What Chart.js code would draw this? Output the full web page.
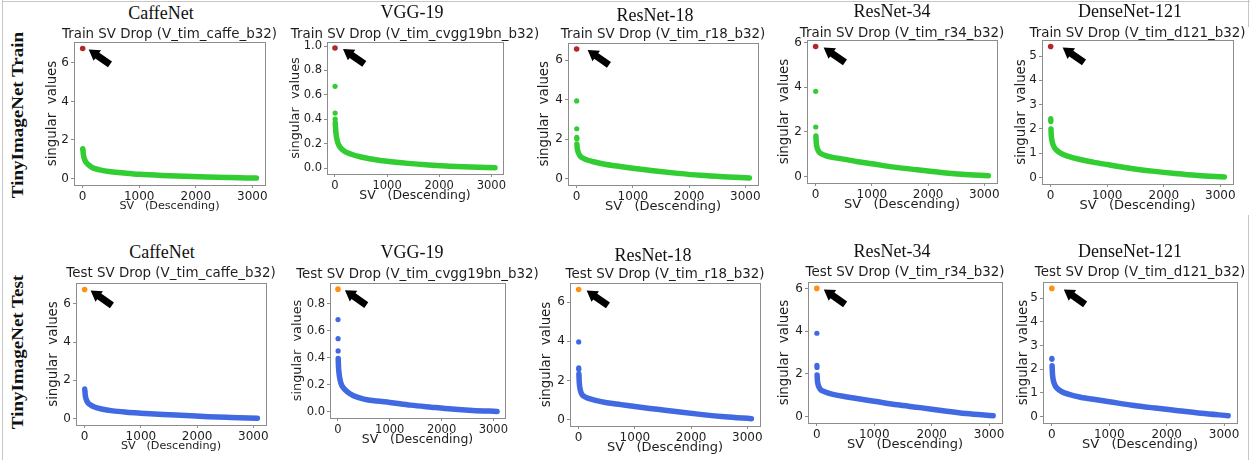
<!DOCTYPE html>
<html>
<head>
<meta charset="utf-8">
<title>TinyImageNet SV drop</title>
<script src="https://cdn.jsdelivr.net/npm/chart.js@4.4.1/dist/chart.umd.min.js"></script>
<style>
  html, body { margin: 0; padding: 0; background: #fff; }
  #fig { position: relative; width: 1260px; height: 460px; overflow: hidden; background: #fff; }
  #fig canvas { position: absolute; }
  .net { position: absolute; font-family: "Liberation Serif", "Times New Roman", serif; font-size: 18px;
         line-height: 1; color: #111; white-space: nowrap; transform: translate(-50%, -50%); }
  .rowlab { position: absolute; font-family: "Liberation Serif", "Times New Roman", serif; font-weight: bold;
            font-size: 19px; line-height: 1; color: #111; white-space: nowrap;
            transform: translate(-50%, -50%) rotate(-90deg) scaleY(0.88); }
  .rule { position: absolute; background: #c6c6c6; }
</style>
</head>
<body>
<div id="fig"></div>
<script>
/* ---------- data ---------- */
const netNames = ['CaffeNet', 'VGG-19', 'ResNet-18', 'ResNet-34', 'DenseNet-121'];
const runTags = ['V_tim_caffe_b32', 'V_tim_cvgg19bn_b32', 'V_tim_r18_b32', 'V_tim_r34_b32', 'V_tim_d121_b32'];
const splitNames = ['Train', 'Test'];
const rowNames = ['TinyImageNet Train', 'TinyImageNet Test'];

// SV positions (descending order) where the bulk of the spectrum is sampled
const svIndex = [5, 10, 20, 35, 60, 100, 175, 300, 500, 750, 1000, 1400, 1800, 2200, 2600, 3071];
const xTicks = [0, 1000, 2000, 3000];

// largest singular value (the one the arrow points at)
const trainTopSV = [6.75, 0.984, 6.56, 5.83, 5.39];
const testTopSV = [6.75, 0.91, 6.65, 6.0, 5.42];

// the next few values, sitting apart from the bulk
const trainNextSV = [[1.55], [0.67, 0.45, 0.40], [3.93, 2.52, 2.08, 2.02], [3.82, 2.22], [2.42, 2.36, 2.30]];
const testNextSV = [[1.55], [0.684, 0.543, 0.452], [3.97, 2.64, 2.56], [3.9, 2.4, 2.3], [2.46, 2.42]];

// bulk of the spectrum, one value per svIndex entry
const caffeTrain = [1.50, 1.30, 1.12, 0.98, 0.84, 0.72, 0.56, 0.45, 0.35, 0.28, 0.22, 0.16, 0.12, 0.08, 0.05, 0.02];
const vggTrain = [0.37, 0.33, 0.28, 0.24, 0.20, 0.17, 0.14, 0.115, 0.09, 0.07, 0.055, 0.038, 0.025, 0.015, 0.008, 0.003];
const r18Train = [1.75, 1.55, 1.40, 1.28, 1.15, 1.05, 0.95, 0.85, 0.72, 0.62, 0.52, 0.38, 0.26, 0.16, 0.09, 0.03];
const r34Train = [1.82, 1.55, 1.35, 1.22, 1.10, 1.02, 0.94, 0.86, 0.78, 0.66, 0.57, 0.42, 0.30, 0.19, 0.10, 0.03];
const d121Train = [2.00, 1.75, 1.55, 1.40, 1.25, 1.13, 1.00, 0.88, 0.75, 0.63, 0.53, 0.38, 0.26, 0.16, 0.08, 0.02];
const caffeTest = [1.45, 1.25, 1.08, 0.95, 0.82, 0.72, 0.60, 0.50, 0.40, 0.33, 0.28, 0.21, 0.16, 0.10, 0.06, 0.02];
const vggTest = [0.395, 0.34, 0.29, 0.25, 0.21, 0.18, 0.15, 0.12, 0.095, 0.08, 0.07, 0.05, 0.035, 0.021, 0.011, 0.003];
const r18Test = [2.33, 1.95, 1.65, 1.45, 1.28, 1.18, 1.08, 0.98, 0.86, 0.76, 0.66, 0.52, 0.38, 0.25, 0.14, 0.04];
const r34Test = [1.95, 1.70, 1.52, 1.40, 1.28, 1.20, 1.12, 1.03, 0.93, 0.82, 0.72, 0.55, 0.42, 0.27, 0.14, 0.04];
const d121Test = [2.15, 1.85, 1.62, 1.45, 1.30, 1.18, 1.05, 0.94, 0.82, 0.72, 0.63, 0.48, 0.36, 0.25, 0.14, 0.04];

const trainYTicks = [[0, 2, 4, 6], [0, 0.2, 0.4, 0.6, 0.8, 1.0], [0, 2, 4, 6], [0, 2, 4, 6], [0, 1, 2, 3, 4, 5]];
const testYTicks = [[0, 2, 4, 6], [0, 0.2, 0.4, 0.6, 0.8], [0, 2, 4, 6], [0, 2, 4, 6], [0, 1, 2, 3, 4, 5]];

/* ---------- layout (page px) ---------- */
// plot frame [left, top, right, bottom]
const trainBoxes = [[74, 42, 265, 185], [327, 42, 503, 174], [568, 42.5, 758, 185], [807, 40, 997, 183], [1042, 40, 1233, 184]];
const testBoxes = [[76, 283, 266, 425], [330, 283, 505, 418], [570, 283, 760, 426], [808, 282, 1002, 423], [1043, 282, 1237, 423]];
const trainYLabelX = [53, 296, 545, 785, 1021.7];
const testYLabelX = [53.3, 297.5, 547, 785, 1023.3];
const trainSubY = [34.3, 35, 35, 33.3, 33.3];
const testSubY = [273.3, 275, 275, 272.3, 272.3];
const trainNetPos = [[161, 13], [412, 11.7], [655, 15], [892, 10.8], [1130, 10.5]];
const testNetPos = [[162, 251.7], [412, 251.7], [653, 255], [892, 250.5], [1130, 250.5]];
const trainArrowDx = [6, 8, 11, 8, 12];
const testArrowDx = [6, 7, 8, 7, 12];

const GREEN = '#32cd32', BLUE = '#4169e1', RED = '#b3262a', ORANGE = '#ff9012';
const SPINE = '#8c8c8c', INK = '#1e1e1e';

Chart.defaults.font.family = '"DejaVu Sans", sans-serif';

/* frame round the plot area, matplotlib style */
const framePlugin = {
  id: 'frame',
  afterDatasetsDraw(chart) {
    const { ctx, chartArea: a } = chart;
    ctx.save();
    ctx.strokeStyle = SPINE;
    ctx.lineWidth = 1;
    const l = Math.round(a.left) + 0.5, t = Math.round(a.top) + 0.5;
    ctx.strokeRect(l, t, Math.round(a.right) - Math.round(a.left), Math.round(a.bottom) - Math.round(a.top));
    ctx.restore();
  }
};

/* black block arrow pointing at the top singular value */
const arrowPlugin = {
  id: 'svArrow',
  afterDatasetsDraw(chart, args, opts) {
    const pt = chart.getDatasetMeta(0).data[0];
    if (!pt) return;
    const { ctx } = chart;
    const tx = pt.x + opts.dx, ty = pt.y + 1;
    const ux = 0.82, uy = 0.574;      // from tip towards tail
    const px = -uy, py = ux;          // across the shaft
    const headL = 10.5, headW = 6.5, shaftW = 3.5, len = 26;
    const P = (along, across) => [tx + ux * along + px * across, ty + uy * along + py * across];
    const pts = [P(0, 0), P(headL, headW), P(headL, shaftW), P(len, shaftW), P(len, -shaftW), P(headL, -shaftW), P(headL, -headW)];
    ctx.save();
    ctx.fillStyle = '#000';
    ctx.beginPath();
    pts.forEach((p, k) => k ? ctx.lineTo(p[0], p[1]) : ctx.moveTo(p[0], p[1]));
    ctx.closePath();
    ctx.fill();
    ctx.restore();
  }
};

const fig = document.getElementById('fig');

function addDiv(cls, text, x, y) {
  const d = document.createElement('div');
  d.className = cls;
  d.textContent = text;
  d.style.left = x + 'px';
  d.style.top = y + 'px';
  fig.appendChild(d);
}

function addRule(x, y, w, h) {
  const d = document.createElement('div');
  d.className = 'rule';
  Object.assign(d.style, { left: x + 'px', top: y + 'px', width: w + 'px', height: h + 'px' });
  fig.appendChild(d);
}

function makePanel(row, i) {
  const train = row === 0;
  const box = (train ? trainBoxes : testBoxes)[i];
  const yLabX = (train ? trainYLabelX : testYLabelX)[i];
  const subY = (train ? trainSubY : testSubY)[i];
  const top = (train ? trainTopSV : testTopSV)[i];
  const next = (train ? trainNextSV : testNextSV)[i];
  const bulk = (train ? [caffeTrain, vggTrain, r18Train, r34Train, d121Train] : [caffeTest, vggTest, r18Test, r34Test, d121Test])[i];
  const yTicks = (train ? trainYTicks : testYTicks)[i];
  const dotCol = train ? RED : ORANGE;
  const lineCol = train ? GREEN : BLUE;

  const k = i === 1 ? 0.96 : 1;       // VGG axes text is a touch smaller
  const subSize = 13.4, labSize = 13.4 * k, tickSize = 12 * k;
  const xlabSize = (i === 0 ? 11.2 : 13) * k;

  // canvas placement so that the chart area lands on the frame box
  const left = Math.floor(yLabX - 0.6 * labSize);
  const yTitlePad = (yLabX - 0.6 * labSize) - left;
  const yW = box[0] - left;
  const cw = Math.round(2 * ((box[0] + box[2]) / 2 - left));
  const padR = cw - (box[2] - left);    // filled by a blank right-hand axis so the title centres on the frame

  // subtitle: its middle sits on subY, the frame top on box[1]
  const topExact = subY - 0.6 * subSize;
  const topPx = Math.floor(topExact);
  const pt = topExact - topPx;
  const pb = box[1] - topPx - pt - 1.2 * subSize;
  const xH = 21.5 + 0.6 * xlabSize;
  const ch = Math.ceil(box[3] + xH + 4 - topPx);
  const padB = ch - (box[3] - topPx) - xH;

  const cv = document.createElement('canvas');
  cv.width = cw; cv.height = ch;
  cv.style.left = left + 'px'; cv.style.top = topPx + 'px';
  cv.style.width = cw + 'px'; cv.style.height = ch + 'px';
  fig.appendChild(cv);

  const yFmt = i === 1 ? (v => Number(v).toFixed(1)) : (v => String(v));

  new Chart(cv, {
    type: 'line',
    data: {
      datasets: [
        { data: [{ x: 0, y: top }], showLine: false, pointRadius: 2.8, pointBackgroundColor: dotCol,
          pointBorderColor: dotCol, pointBorderWidth: 0, order: 0 },
        { data: next.map((v, j) => ({ x: j + 1, y: v })), showLine: false, pointRadius: 2.6,
          pointBackgroundColor: lineCol, pointBorderColor: lineCol, pointBorderWidth: 0, order: 1 },
        { data: svIndex.map((x, j) => ({ x, y: bulk[j] })), borderColor: lineCol, borderWidth: 5.5,
          pointRadius: 0, cubicInterpolationMode: 'monotone', borderCapStyle: 'round',
          borderJoinStyle: 'round', order: 2 }
      ]
    },
    options: {
      responsive: false, animation: false, devicePixelRatio: 1, events: [],
      layout: { padding: { left: 0, top: 0, right: 0, bottom: padB } },
      plugins: {
        legend: { display: false },
        tooltip: { enabled: false },
        title: {
          display: true, fullSize: true, align: 'center',
          text: splitNames[row] + ' SV Drop (' + runTags[i] + ')',
          font: { size: subSize, lineHeight: 1.2, weight: 'normal' }, color: INK,
          padding: { top: pt, bottom: pb }
        },
        svArrow: { dx: (train ? trainArrowDx : testArrowDx)[i] }
      },
      scales: {
        x: {
          type: 'linear', min: -153.5, max: 3224.5,
          afterBuildTicks: s => { s.ticks = xTicks.map(v => ({ value: v })); },
          afterFit: s => { s.height = xH; },
          ticks: { font: { size: tickSize, lineHeight: 1 }, color: INK, padding: 3, maxRotation: 0,
                   autoSkip: false, callback: v => String(v) },
          grid: { drawOnChartArea: false, drawTicks: true, tickLength: 3, tickColor: SPINE, color: SPINE },
          border: { display: false },
          title: { display: true, text: 'SV   (Descending)', color: INK,
                   font: { size: xlabSize, lineHeight: 1.2 }, padding: { top: 0, bottom: 0 } }
        },
        y: {
          type: 'linear', min: -0.05 * top, max: 1.05 * top,
          afterBuildTicks: s => { s.ticks = yTicks.map(v => ({ value: v })); },
          afterFit: s => { s.width = yW; },
          ticks: { font: { size: tickSize, lineHeight: 1 }, color: INK, padding: 2, callback: yFmt },
          grid: { drawOnChartArea: false, drawTicks: true, tickLength: 3, tickColor: SPINE, color: SPINE },
          border: { display: false },
          title: { display: true, text: 'singular  values', color: INK,
                   font: { size: labSize, lineHeight: 1.2 }, padding: { top: yTitlePad, bottom: 0 } }
        },
        spacer: {
          type: 'linear', position: 'right', display: true,
          afterFit: s => { s.width = padR; },
          ticks: { display: false }, grid: { display: false }, border: { display: false }
        }
      }
    },
    plugins: [framePlugin, arrowPlugin]
  });

  const np = (train ? trainNetPos : testNetPos)[i];
  addDiv('net', netNames[i], np[0], np[1]);
}

// thin page frame
addRule(2, 0, 1, 460);
addRule(2, 1, 1248, 1);
addRule(1248, 0, 1, 27);
addRule(1248, 215, 1, 245);

for (let row = 0; row < 2; row++) {
  for (let i = 0; i < netNames.length; i++) makePanel(row, i);
}
addDiv('rowlab', rowNames[0], 17, 115);
addDiv('rowlab', rowNames[1], 17, 352);
</script>
</body>
</html>
